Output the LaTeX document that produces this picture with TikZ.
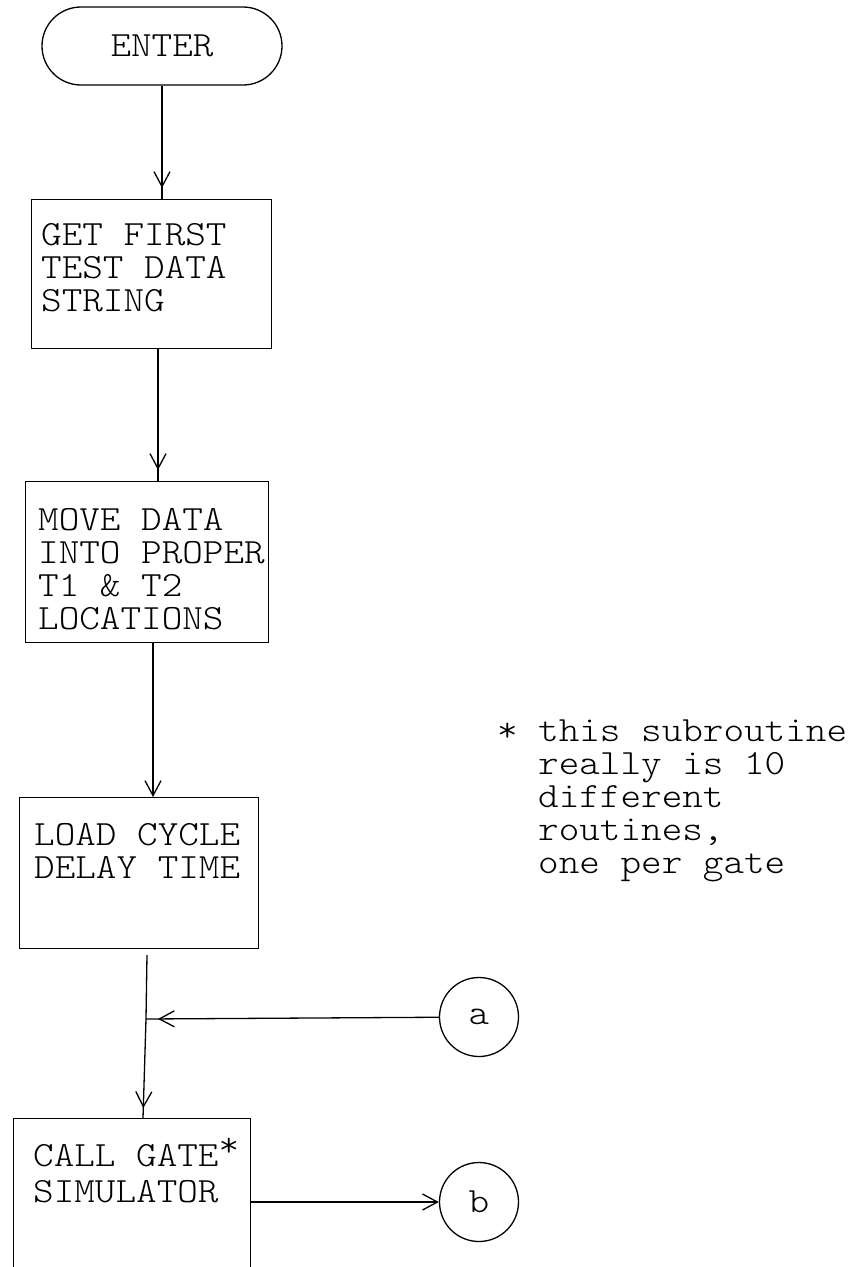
\documentclass[tikz,border=0pt]{standalone}
\usepackage{fontspec}
\usetikzlibrary{arrows.meta,decorations.markings}
% light typewriter face, widened to a 10-pitch look
\newfontfamily\twfont{lmmonolt10-regular.otf}[FakeStretch=1.105]
\newcommand\tw{\twfont\fontsize{35.5bp}{33bp}\selectfont}
\begin{document}
\begin{tikzpicture}[x=1bp,y=-1bp,
  >={Straight Barb[length=15bp,width=16bp]},
  every node/.style={font=\tw, inner sep=0pt},
  flow/.style={line width=1.3bp},
  stepbox/.style={draw, line width=1.3bp, rectangle, anchor=north west},
  term/.style={draw, line width=1.3bp, rectangle, rounded corners=39bp,
               minimum width=240bp, minimum height=78bp},
  conn/.style={draw, line width=1.3bp, circle, minimum size=79bp},
  txt/.style={anchor=north west, align=left},
  headat/.style={postaction={decorate,
      decoration={markings, mark=at position #1 with {\arrow{>}}}}}]
\useasboundingbox (0,0) rectangle (849,1267);
\fill[white] (0,0) rectangle (849,1267);
\clip (0,0) rectangle (849,1267);

% process boxes
\node[term] (enter) at (162,46) {ENTER};
\node[stepbox, minimum width=240bp, minimum height=149bp] (b1) at (31,199) {};
\node[stepbox, minimum width=243bp, minimum height=161bp] (b2) at (25,481) {};
\node[stepbox, minimum width=239bp, minimum height=151bp] (b3) at (19,797) {};
\node[stepbox, minimum width=237bp, minimum height=190bp] (b4) at (13,1118) {};

% box texts
\node[txt] (t1) at (41,223) {GET FIRST\\TEST DATA\\STRING};
\node[txt] (t2) at (38,508) {MOVE DATA\\INTO PROPER\\T1 \& T2\\LOCATIONS};
\node[txt] (t3) at (34,823) {LOAD CYCLE\\DELAY TIME};
\node[txt] (t4) at (33,1144) {CALL GATE\rlap{\smash{\raisebox{10bp}{*}}}\\[3bp]SIMULATOR};

% off-page connectors
\node[conn] (ca) at (479,1017) {\raisebox{-8bp}{a}};
\node[conn] (cb) at (479,1202) {\raisebox{-6bp}{b}};

% footnote
\node[txt] (note) at (538,720)
  {\llap{*\ }this subroutine\\really is 10\\different\\routines,\\one per gate};

% connectors
\coordinate (x2) at (158,0);
\coordinate (x3) at (153,0);
\coordinate (x5) at (143,0);
\coordinate (s4) at (147,955);
\coordinate (j) at (146,1019);

\draw[flow, headat=-11bp] (enter.south) -- (enter.south |- b1.north);
\draw[flow, headat=-11bp] (b1.south -| x2) -- (b2.north -| x2);
\draw[flow, ->] (b2.south -| x3) -- (b3.north -| x3);
\draw[flow] (s4) -- (j);
\draw[flow, headat=-10bp] (j) -- (b4.north -| x5);
\draw[flow, headat=-12bp] (ca) -- (j);
\draw[flow, ->] (b4.east |- cb) -- (cb);
\end{tikzpicture}
\end{document}
